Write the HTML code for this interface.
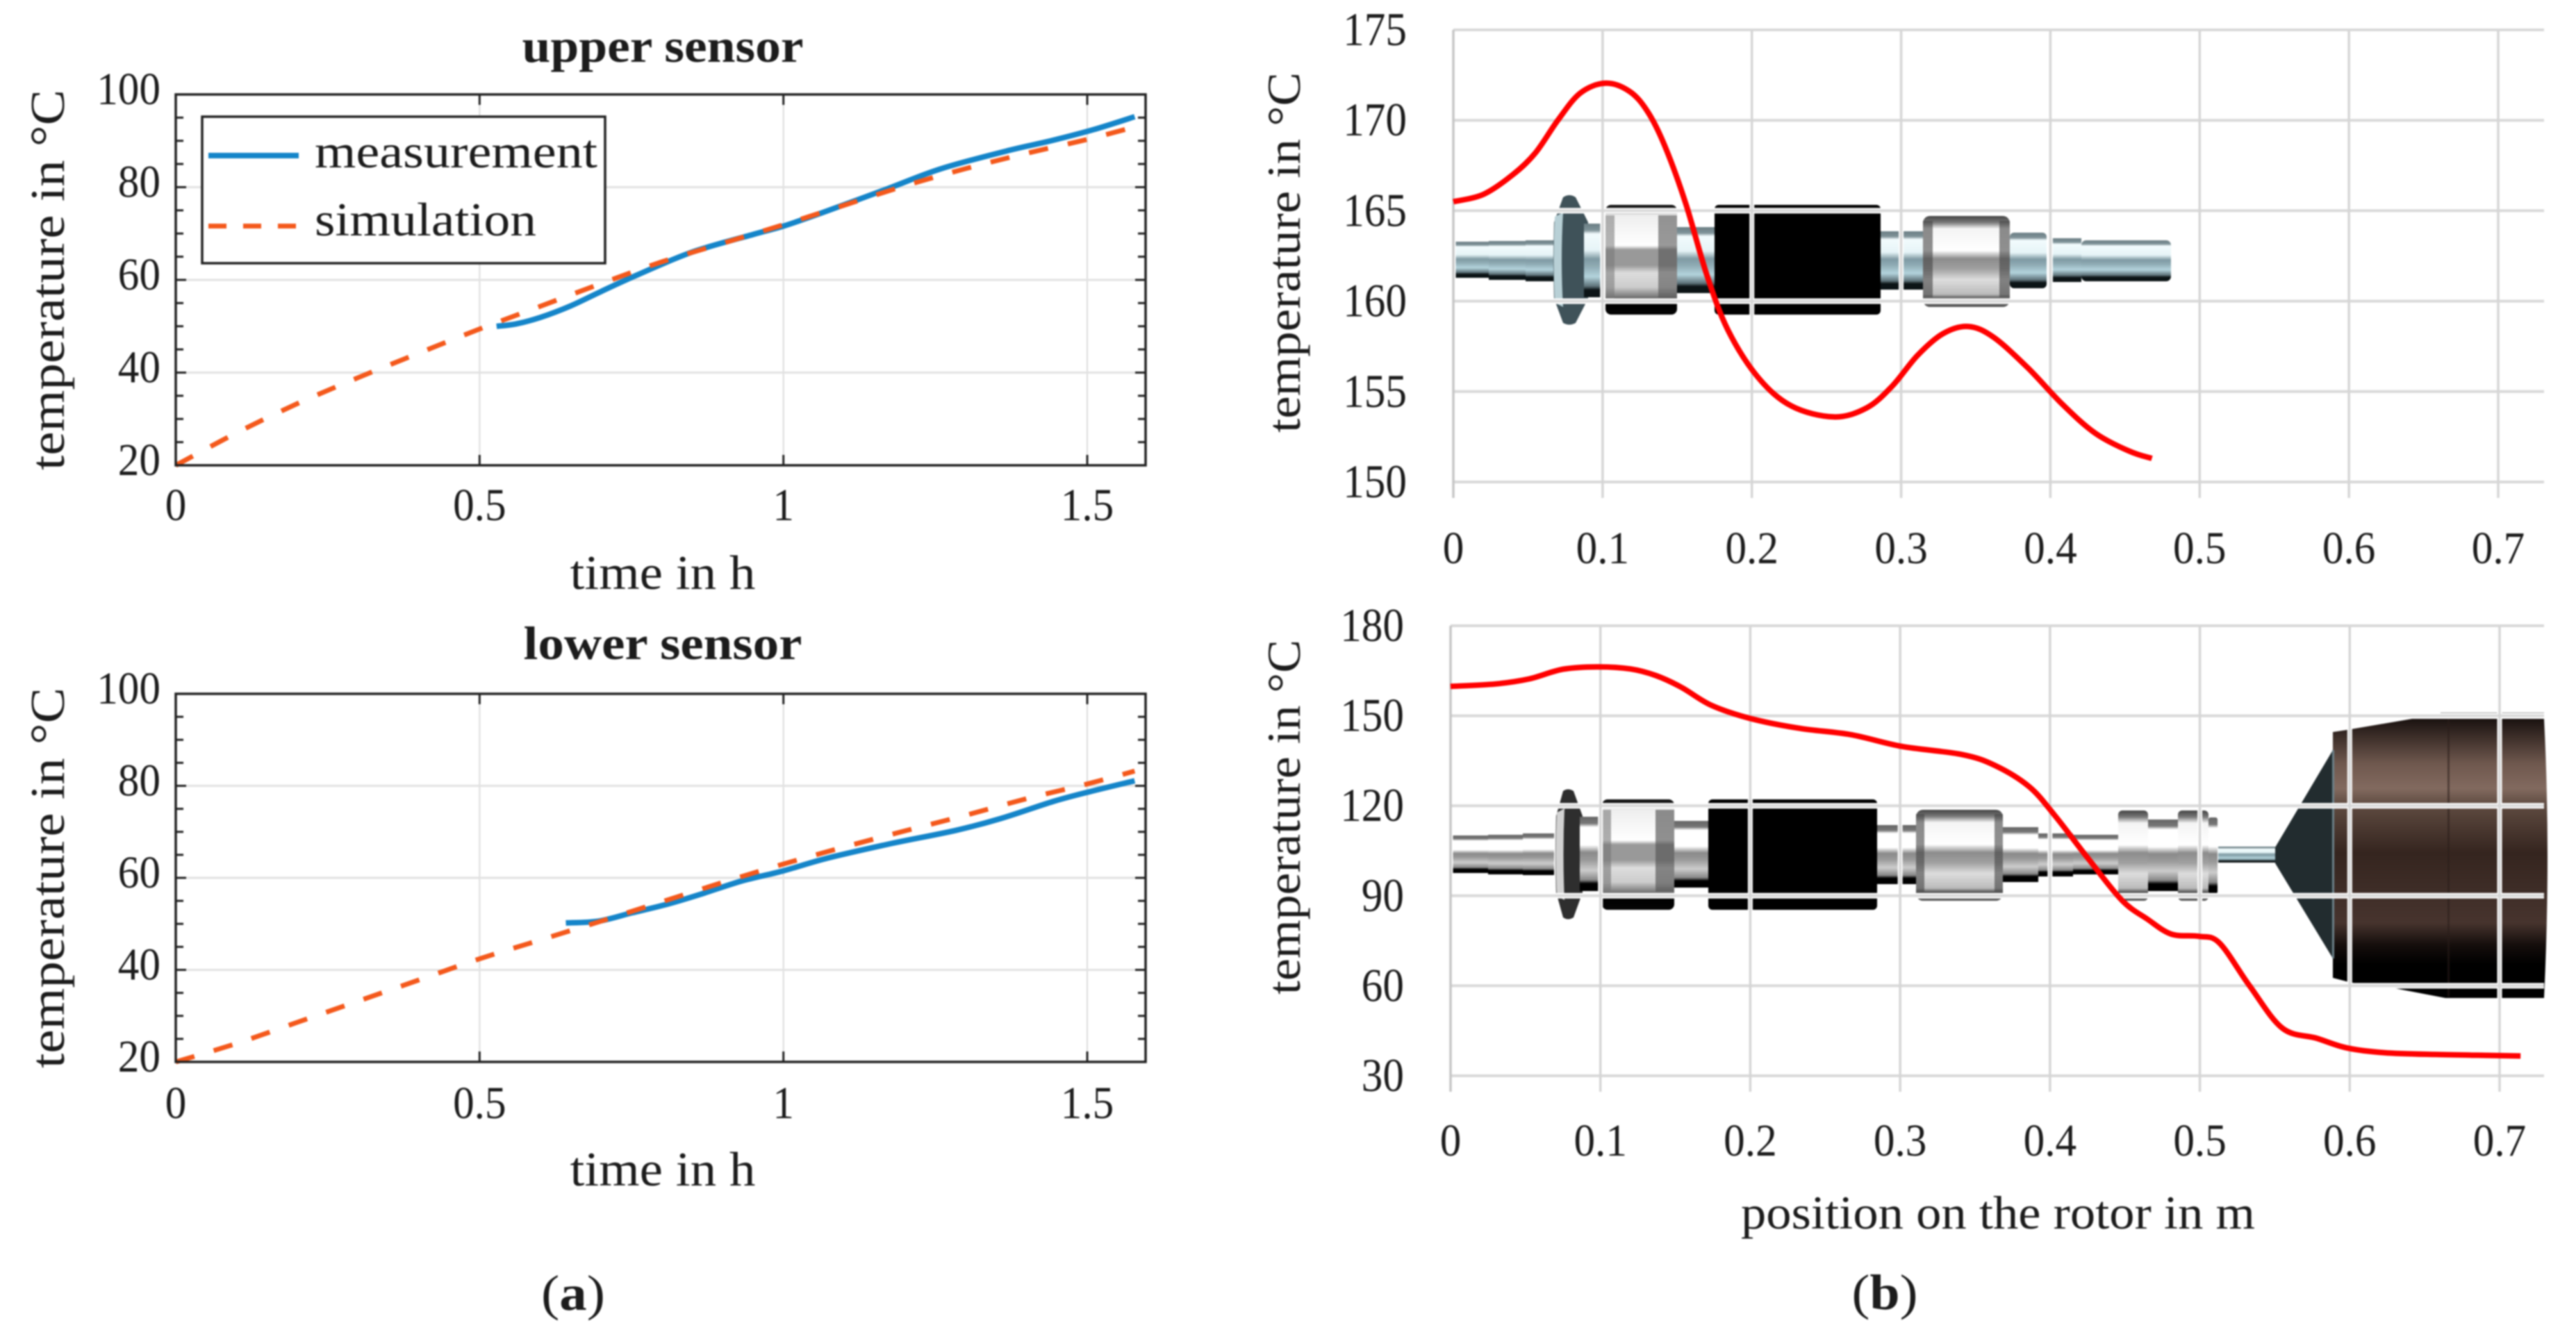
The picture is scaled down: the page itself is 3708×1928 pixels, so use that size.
<!DOCTYPE html>
<html>
<head>
<meta charset="utf-8">
<title>Temperature measurement and rotor temperature profile</title>
<style>
html,body{margin:0;padding:0;background:#fff;}
svg{display:block;filter:blur(1px);}
text{font-family:"Liberation Serif","DejaVu Serif",serif;fill:#1c1c1c;}
</style>
</head>
<body>
<svg id="figure" xmlns="http://www.w3.org/2000/svg" width="3708" height="1928" viewBox="0 0 3708 1928">
<defs>
<linearGradient id="steel" x1="0" y1="0" x2="0" y2="1">
<stop offset="0" stop-color="#6c7f85"/><stop offset=".09" stop-color="#7f9298"/><stop offset=".14" stop-color="#f2fbfd"/><stop offset=".36" stop-color="#e6f4f7"/><stop offset=".48" stop-color="#7f9aa3"/><stop offset=".58" stop-color="#8fabb4"/><stop offset=".72" stop-color="#b3d3dc"/><stop offset=".85" stop-color="#5f737a"/><stop offset=".9" stop-color="#0c1416"/><stop offset="1" stop-color="#0c1416"/>
</linearGradient>
<linearGradient id="chrome" x1="0" y1="0" x2="0" y2="1">
<stop offset="0" stop-color="#666"/><stop offset=".09" stop-color="#777"/><stop offset=".14" stop-color="#fff"/><stop offset=".38" stop-color="#fff"/><stop offset=".48" stop-color="#8a8a8a"/><stop offset=".58" stop-color="#999"/><stop offset=".72" stop-color="#ccc"/><stop offset=".85" stop-color="#888"/><stop offset=".9" stop-color="#000"/><stop offset="1" stop-color="#000"/>
</linearGradient>
<linearGradient id="bearingA" x1="0" y1="0" x2="0" y2="1">
<stop offset="0" stop-color="#111"/><stop offset=".05" stop-color="#222"/><stop offset=".09" stop-color="#eee"/><stop offset=".37" stop-color="#fff"/><stop offset=".41" stop-color="#999"/><stop offset=".55" stop-color="#999"/><stop offset=".62" stop-color="#ddd"/><stop offset=".75" stop-color="#ccc"/><stop offset=".84" stop-color="#777"/><stop offset=".88" stop-color="#000"/><stop offset="1" stop-color="#050505"/>
</linearGradient>
<linearGradient id="bearingB" x1="0" y1="0" x2="0" y2="1">
<stop offset="0" stop-color="#444"/><stop offset=".07" stop-color="#777"/><stop offset=".14" stop-color="#f4f4f4"/><stop offset=".38" stop-color="#fff"/><stop offset=".47" stop-color="#8c8c8c"/><stop offset=".58" stop-color="#a0a0a0"/><stop offset=".7" stop-color="#ddd"/><stop offset=".86" stop-color="#bbb"/><stop offset=".92" stop-color="#333"/><stop offset=".95" stop-color="#666"/><stop offset="1" stop-color="#555"/>
</linearGradient>
<linearGradient id="motor" gradientUnits="userSpaceOnUse" x1="0" y1="1035" x2="0" y2="1437">
<stop offset="0" stop-color="#1a1210"/><stop offset=".16" stop-color="#6f584e"/><stop offset=".25" stop-color="#826a5f"/><stop offset=".31" stop-color="#5e4a40"/><stop offset=".48" stop-color="#35251f"/><stop offset=".61" stop-color="#3e2d27"/><stop offset=".73" stop-color="#47342e"/><stop offset=".81" stop-color="#150e0c"/><stop offset=".88" stop-color="#000"/><stop offset="1" stop-color="#000"/>
</linearGradient>
</defs>

<!-- upper rotor image -->
<g>
<rect x="2093" y="348" width="50" height="52" fill="url(#steel)"/>
<rect x="2143" y="347" width="53" height="56" fill="url(#steel)"/>
<rect x="2196" y="346" width="41" height="59" fill="url(#steel)"/>
<path d="M2250,284 Q2259,278 2268,284 L2286,320 L2286,430 L2268,465 Q2259,470 2250,465 L2237,430 Q2235,375 2237,320 Z" fill="#3f5259"/>
<path d="M2238,312 L2250,306 Q2246,375 2250,442 L2238,436 Q2235,375 2238,312 Z" fill="#b8d0d6"/>
<rect x="2280" y="322" width="24" height="106" fill="url(#steel)"/>
<rect x="2311" y="295" width="103" height="158" rx="8" fill="url(#bearingA)"/>
<rect x="2311" y="310" width="13" height="125" fill="#777" opacity=".55"/>
<rect x="2387" y="310" width="27" height="125" fill="#555" opacity=".6"/>
<rect x="2414" y="327" width="54" height="95" fill="url(#steel)"/>
<rect x="2468" y="295" width="239" height="158" rx="6" fill="#000"/>
<rect x="2707" y="333" width="61" height="84" fill="url(#steel)"/>
<rect x="2768" y="311" width="125" height="131" rx="10" fill="url(#bearingB)"/>
<rect x="2768" y="318" width="14" height="110" fill="#444" opacity=".6"/>
<rect x="2878" y="318" width="15" height="110" fill="#444" opacity=".6"/>
<rect x="2893" y="335" width="53" height="80" rx="6" fill="url(#steel)"/>
<rect x="2954" y="343" width="42" height="63" fill="url(#steel)"/>
<rect x="2996" y="346" width="129" height="59" rx="7" fill="url(#steel)"/>
</g>

<!-- lower rotor image -->
<g>
<rect x="2090" y="1203" width="52" height="54" fill="url(#chrome)"/>
<rect x="2142" y="1202" width="50" height="57" fill="url(#chrome)"/>
<rect x="2192" y="1200" width="45" height="60" fill="url(#chrome)"/>
<path d="M2250,1139 Q2257,1134 2265,1139 L2278,1175 L2278,1285 L2265,1321 Q2257,1326 2250,1321 L2240,1285 Q2238,1230 2240,1175 Z" fill="#2e2e2e"/>
<path d="M2241,1170 L2252,1164 Q2249,1230 2252,1296 L2241,1290 Q2238,1230 2241,1170 Z" fill="#d2d2d2"/>
<rect x="2274" y="1176" width="27" height="107" fill="url(#chrome)"/>
<rect x="2306" y="1151" width="104" height="159" rx="8" fill="url(#bearingA)"/>
<rect x="2306" y="1166" width="13" height="118" fill="#777" opacity=".6"/>
<rect x="2383" y="1166" width="27" height="118" fill="#555" opacity=".65"/>
<rect x="2410" y="1182" width="49" height="96" fill="url(#chrome)"/>
<rect x="2459" y="1151" width="243" height="159" rx="6" fill="#000"/>
<rect x="2702" y="1188" width="56" height="85" fill="url(#chrome)"/>
<rect x="2758" y="1166" width="125" height="131" rx="10" fill="url(#bearingB)"/>
<rect x="2758" y="1172" width="12" height="112" fill="#444" opacity=".6"/>
<rect x="2871" y="1172" width="12" height="112" fill="#444" opacity=".6"/>
<rect x="2883" y="1191" width="51" height="79" fill="url(#chrome)"/>
<rect x="2934" y="1200" width="50" height="62" fill="url(#chrome)"/>
<rect x="2984" y="1202" width="65" height="57" fill="url(#chrome)"/>
<rect x="3049" y="1167" width="43" height="130" rx="6" fill="url(#bearingB)"/>
<rect x="3092" y="1180" width="43" height="103" fill="url(#chrome)"/>
<rect x="3135" y="1167" width="44" height="130" rx="6" fill="url(#bearingB)"/>
<rect x="3179" y="1177" width="13" height="110" rx="3" fill="url(#chrome)"/>
<rect x="3193" y="1219" width="82" height="23" fill="url(#steel)"/>
<polygon points="3275,1220 3358,1080 3358,1380 3275,1243" fill="#222c2f"/>
<rect x="3513" y="1026" width="149" height="5" fill="#666"/>
<path d="M3358,1054 L3378,1051 L3472,1035 L3662,1035 Q3672,1230 3662,1437 L3520,1437 L3447,1423 L3385,1415 L3358,1408 Z" fill="url(#motor)"/>
<rect x="3523" y="1035" width="3" height="400" fill="#2a1d19" opacity=".55"/>
<rect x="3357" y="1080" width="3" height="300" fill="#6b8088"/>
</g>

<g id="charts"></g>

<!-- static text: titles and labels -->
<text x="954" y="89" font-size="68" font-weight="bold" text-anchor="middle" textLength="405" lengthAdjust="spacingAndGlyphs">upper sensor</text>
<text x="954" y="949" font-size="68" font-weight="bold" text-anchor="middle" textLength="401" lengthAdjust="spacingAndGlyphs">lower sensor</text>
<text x="954" y="848" font-size="70" text-anchor="middle" textLength="267" lengthAdjust="spacingAndGlyphs">time in h</text>
<text x="954" y="1707" font-size="70" text-anchor="middle" textLength="267" lengthAdjust="spacingAndGlyphs">time in h</text>
<text transform="translate(92,677) rotate(-90)" font-size="70" textLength="548" lengthAdjust="spacingAndGlyphs">temperature in °C</text>
<text transform="translate(92,1538) rotate(-90)" font-size="70" textLength="548" lengthAdjust="spacingAndGlyphs">temperature in °C</text>
<text transform="translate(1871,623) rotate(-90)" font-size="68" textLength="519" lengthAdjust="spacingAndGlyphs">temperature in °C</text>
<text transform="translate(1871,1432) rotate(-90)" font-size="68" textLength="511" lengthAdjust="spacingAndGlyphs">temperature in °C</text>
<text x="2876" y="1769" font-size="68" text-anchor="middle" textLength="740" lengthAdjust="spacingAndGlyphs">position on the rotor in m</text>
<text x="825" y="1886" font-size="72" text-anchor="middle" textLength="92" lengthAdjust="spacingAndGlyphs">(<tspan font-weight="bold">a</tspan>)</text>
<text x="2713" y="1885" font-size="72" text-anchor="middle" textLength="95" lengthAdjust="spacingAndGlyphs">(<tspan font-weight="bold">b</tspan>)</text>

<script>
// ---- chart data ----
var timeTicks = [0, 0.5, 1, 1.5];
var sensorTempTicks = [20, 40, 60, 80, 100];
var sensorTempMinorTicks = [25, 30, 35, 45, 50, 55, 65, 70, 75, 85, 90, 95];

var upperSimTime = [0, 0.1, 0.2, 0.3, 0.4, 0.5, 0.6, 0.7, 0.8, 0.9, 1.0, 1.1, 1.2, 1.3, 1.4, 1.5, 1.578];
var upperSimTemp = [20, 27, 33.3, 38.9, 44.2, 49.4, 54.3, 59.2, 63.9, 67.9, 71.9, 76.1, 80.3, 84, 87.3, 90.3, 93];
var upperMeasTime = [0.528, 0.56, 0.6, 0.65, 0.7, 0.76, 0.85, 0.95, 1.0, 1.06, 1.17, 1.26, 1.37, 1.44, 1.51, 1.578];
var upperMeasTemp = [50, 50.5, 51.9, 54.4, 57.5, 61.1, 66, 69.8, 71.6, 74.3, 79.6, 84, 87.9, 90, 92.4, 95.2];

var lowerSimTime = [0, 0.1, 0.2, 0.3, 0.4, 0.5, 0.6, 0.7, 0.8, 0.9, 1.0, 1.1, 1.2, 1.3, 1.4, 1.5, 1.578];
var lowerSimTemp = [20, 24, 28.6, 33.2, 37.8, 42.4, 46.5, 50.6, 54.8, 59, 63, 66.7, 70.2, 73.6, 77.2, 80.4, 83.2];
var lowerMeasTime = [0.642, 0.696, 0.751, 0.807, 0.863, 0.931, 0.999, 1.073, 1.172, 1.283, 1.358, 1.444, 1.506, 1.578];
var lowerMeasTemp = [50.2, 50.6, 52.4, 54.2, 56.4, 59.3, 61.5, 64.3, 67.3, 70.3, 72.9, 76.6, 78.8, 81.1];

var positionTicks = [0, 0.1, 0.2, 0.3, 0.4, 0.5, 0.6, 0.7];
var rotorUpperTempTicks = [150, 155, 160, 165, 170, 175];
var rotorLowerTempTicks = [30, 60, 90, 120, 150, 180];

var rotorUpperPos = [0, 0.02, 0.04, 0.055, 0.07, 0.085, 0.102, 0.118, 0.13, 0.1416, 0.1557, 0.17, 0.184, 0.204, 0.2265, 0.255, 0.277, 0.294, 0.311, 0.328, 0.345, 0.362, 0.385, 0.408, 0.43, 0.453, 0.468];
var rotorUpperTemp = [165.5, 165.9, 167, 168.2, 170, 171.5, 172.05, 171.6, 170.5, 168.6, 165.4, 161.4, 158.4, 155.8, 154.2, 153.6, 154.1, 155.3, 157, 158.2, 158.6, 158, 156.3, 154.3, 152.7, 151.7, 151.3];

var rotorLowerPos = [0, 0.03, 0.0525, 0.075, 0.098, 0.12, 0.137, 0.154, 0.174, 0.2, 0.233, 0.267, 0.301, 0.341, 0.363, 0.386, 0.403, 0.425, 0.448, 0.465, 0.481, 0.499, 0.513, 0.533, 0.555, 0.578, 0.598, 0.623, 0.657, 0.691, 0.714];
var rotorLowerTemp = [159.8, 160.6, 162.3, 165.5, 166.3, 165.6, 163.4, 159.5, 153.5, 149.1, 145.8, 143.7, 139.8, 137.1, 133.5, 126.4, 116.9, 102.7, 88.5, 82.2, 77.2, 76.5, 74.3, 60.1, 45.9, 42.5, 39.3, 37.7, 37.1, 36.8, 36.6];

// ---- helpers ----
var NS = 'http://www.w3.org/2000/svg';
var root = document.getElementById('charts');

function scale(d0, d1, r0, r1) {
  return function (v) { return r0 + (v - d0) * (r1 - r0) / (d1 - d0); };
}
function make(parent, tag, name, interactable, attrs, txt) {
  var el = document.createElementNS(NS, tag);
  
  
  for (var k in attrs) { el.setAttribute(k, attrs[k]); }
  if (txt !== undefined) { el.textContent = txt; }
  parent.appendChild(el);
  return el;
}
function seg(parent, name, x1, y1, x2, y2, color, w) {
  return make(parent, 'line', name, 'false', { x1: x1, y1: y1, x2: x2, y2: y2, stroke: color, 'stroke-width': w });
}
function tickLabel(parent, name, x, y, size, anchor, value) {
  var s = String(value);
  var w = 0;
  for (var i = 0; i < s.length; i++) { w += s[i] === '.' ? 15 : 30; }
  return make(parent, 'text', name, 'false', { x: x, y: y, 'font-size': size, 'text-anchor': anchor, textLength: w * 1.02, lengthAdjust: 'spacingAndGlyphs' }, s);
}
function smoothPath(xs, ys, sx, sy) {
  var p = xs.map(function (x, i) { return [sx(x), sy(ys[i])]; });
  var d = 'M' + p[0][0].toFixed(1) + ',' + p[0][1].toFixed(1);
  for (var i = 0; i < p.length - 1; i++) {
    var a = p[Math.max(i - 1, 0)], b = p[i], c = p[i + 1], e = p[Math.min(i + 2, p.length - 1)];
    var c1x = b[0] + (c[0] - a[0]) / 6, c1y = b[1] + (c[1] - a[1]) / 6;
    var c2x = c[0] - (e[0] - b[0]) / 6, c2y = c[1] - (e[1] - b[1]) / 6;
    d += ' C' + c1x.toFixed(1) + ',' + c1y.toFixed(1) + ' ' + c2x.toFixed(1) + ',' + c2y.toFixed(1) + ' ' + c[0].toFixed(1) + ',' + c[1].toFixed(1);
  }
  return d;
}

// ---- sensor panel (left column) ----
function sensorChart(prefix, box, tickBase, simT, simV, measT, measV) {
  var g = make(root, 'g', prefix + '-chart', 'false', {});
  var sx = scale(0, 1.596, box.l, box.r);
  var sy = scale(20, 100, box.b, box.t);
  timeTicks.forEach(function (t) {
    if (t > 0) { seg(g, prefix + '-x-gridline', sx(t), box.t, sx(t), box.b, '#dcdcdc', 2); }
  });
  sensorTempTicks.forEach(function (v) {
    if (v > 20 && v < 100) { seg(g, prefix + '-y-gridline', box.l, sy(v), box.r, sy(v), '#e2e2e2', 3); }
  });
  make(g, 'path', prefix + '-measurement-line', 'false', { d: smoothPath(measT, measV, sx, sy), fill: 'none', stroke: '#1585c9', 'stroke-width': 8 });
  make(g, 'path', prefix + '-simulation-line', 'false', { d: smoothPath(simT, simV, sx, sy), fill: 'none', stroke: '#f4591c', 'stroke-width': 7, 'stroke-dasharray': '28 29' });
  make(g, 'rect', prefix + '-plot-frame', 'false', { x: box.l, y: box.t, width: box.r - box.l, height: box.b - box.t, fill: 'none', stroke: '#222', 'stroke-width': 3.5 });
  timeTicks.forEach(function (t) {
    seg(g, prefix + '-x-tick', sx(t), box.b, sx(t), box.b - 15, '#222', 3);
    seg(g, prefix + '-x-tick-top', sx(t), box.t, sx(t), box.t + 15, '#222', 3);
    tickLabel(g, prefix + '-x-tick-label', sx(t), tickBase, 66, 'middle', t);
  });
  sensorTempTicks.forEach(function (v) {
    seg(g, prefix + '-y-tick', box.l, sy(v), box.l + 15, sy(v), '#222', 3);
    seg(g, prefix + '-y-tick-right', box.r, sy(v), box.r - 15, sy(v), '#222', 3);
    tickLabel(g, prefix + '-y-tick-label', 231, sy(v) + 14, 66, 'end', v);
  });
  sensorTempMinorTicks.forEach(function (v) {
    seg(g, prefix + '-y-minor-tick', box.l, sy(v), box.l + 11, sy(v), '#222', 3);
    seg(g, prefix + '-y-minor-tick-right', box.r, sy(v), box.r - 11, sy(v), '#222', 3);
  });
  return g;
}

var upperG = sensorChart('upper-sensor', { l: 253, r: 1649, t: 136, b: 670 }, 749, upperSimTime, upperSimTemp, upperMeasTime, upperMeasTemp);
sensorChart('lower-sensor', { l: 253, r: 1649, t: 999, b: 1529 }, 1610, lowerSimTime, lowerSimTemp, lowerMeasTime, lowerMeasTemp);

// legend
var legend = make(upperG, 'g', 'legend', 'false', {});
make(legend, 'rect', 'legend-box', 'false', { x: 291, y: 168, width: 580, height: 211, fill: '#fff', stroke: '#222', 'stroke-width': 3.5 });
make(legend, 'line', 'legend-swatch-measurement', 'false', { x1: 300, y1: 224, x2: 430, y2: 224, stroke: '#1585c9', 'stroke-width': 8 });
make(legend, 'line', 'legend-swatch-simulation', 'false', { x1: 300, y1: 325.5, x2: 430, y2: 325.5, stroke: '#f4591c', 'stroke-width': 7, 'stroke-dasharray': '26 24' });
make(legend, 'text', 'legend-label-measurement', 'false', { x: 453, y: 241, 'font-size': 68, textLength: 407, lengthAdjust: 'spacingAndGlyphs' }, 'measurement');
make(legend, 'text', 'legend-label-simulation', 'false', { x: 453, y: 339, 'font-size': 68, textLength: 319, lengthAdjust: 'spacingAndGlyphs' }, 'simulation');

// ---- rotor panel (right column) ----
function rotorChart(prefix, box, tickBase, tempTicks, d0, d1, pos, temp) {
  var g = make(root, 'g', prefix + '-chart', 'false', {});
  var sx = scale(0, 0.7, box.x0, box.x7);
  var sy = scale(d0, d1, box.y0, box.y1);
  // white halos over the rotor picture, then the grey grid
  tempTicks.forEach(function (v) {
    seg(g, prefix + '-grid-halo', box.x0, sy(v), box.r, sy(v), '#fff', 8);
  });
  positionTicks.forEach(function (p) {
    seg(g, prefix + '-grid-halo', sx(p), box.y1, sx(p), box.bottom, '#fff', 7);
  });
  tempTicks.forEach(function (v) {
    seg(g, prefix + '-y-gridline', box.x0, sy(v), box.r, sy(v), '#d9d9d9', 4);
    tickLabel(g, prefix + '-y-tick-label', box.lab, sy(v) + 22, 68, 'end', v);
  });
  positionTicks.forEach(function (p) {
    seg(g, prefix + '-x-gridline', sx(p), box.y1, sx(p), box.bottom, p === 0 ? '#c6c6c6' : '#d6d6d6', 3.5);
    tickLabel(g, prefix + '-x-tick-label', sx(p), tickBase, 66, 'middle', p);
  });
  make(g, 'path', prefix + '-temperature-line', 'false', { d: smoothPath(pos, temp, sx, sy), fill: 'none', stroke: '#ff0000', 'stroke-width': 8, 'stroke-linejoin': 'round' });
}

rotorChart('rotor-upper', { x0: 2092, x7: 3596, r: 3662, y0: 694, y1: 43, bottom: 717, lab: 2025 }, 811, rotorUpperTempTicks, 150, 175, rotorUpperPos, rotorUpperTemp);
rotorChart('rotor-lower', { x0: 2088, x7: 3598, r: 3662, y0: 1549, y1: 901, bottom: 1572, lab: 2021 }, 1664, rotorLowerTempTicks, 30, 180, rotorLowerPos, rotorLowerTemp);
</script>
</svg>
</body>
</html>
